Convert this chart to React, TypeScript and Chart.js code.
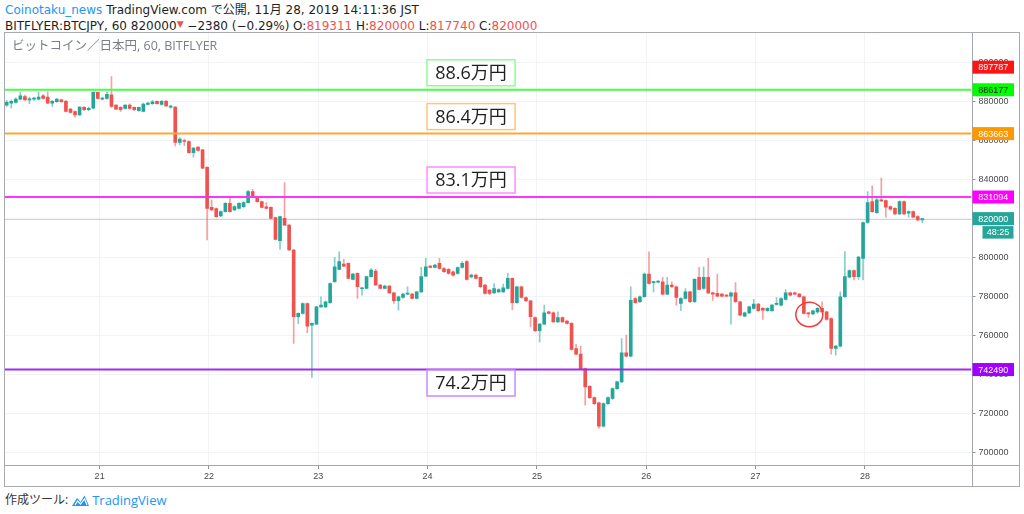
import React, { useEffect, useRef } from "react";
import { Chart, registerables } from "chart.js";

Chart.register(...registerables);

// ---------- data ----------
const dayLabels = ["21", "22", "23", "24", "25", "26", "27", "28"];
const dayTickIndex = [20.4, 44.4, 68.4, 92.4, 116.4, 140.4, 164.4, 188.4];
const priceTicks = [700000, 720000, 740000, 760000, 780000, 800000, 820000, 840000, 860000, 880000, 900000];

const opens = [
  878300, 879300, 879700, 881400, 882700, 881000, 881400, 881400, 883100, 882400,
  879300, 880000, 881000, 880200, 876200, 875000, 873300, 877100, 875900, 876700,
  884800, 881400, 881700, 883600, 878300, 877100, 876600, 878300, 877100, 875400,
  875000, 878600, 879000, 880200, 878600, 880300, 877300, 877300, 859100, 860100,
  859600, 853900, 856700, 855300, 846400, 825800, 825200, 821400, 823600, 827900,
  824500, 825300, 826100, 828200, 833900, 831300, 828700, 826100, 825800, 820500,
  808700, 820100, 816700, 803900, 769600, 771300, 776400, 765300, 765800, 774700,
  774700, 776800, 787600, 793900, 796700, 797000, 788800, 791900, 784000, 784200,
  790200, 793100, 785900, 784200, 785400, 781900, 777800, 779500, 781200, 781200,
  779000, 782400, 790500, 795600, 795000, 797000, 794400, 793900, 792700, 791900,
  794900, 797900, 790100, 791000, 789800, 785900, 783300, 781900, 782400, 782400,
  784100, 789300, 776800, 785000, 779500, 777800, 769200, 762400, 765800, 772100,
  771600, 767000, 769200, 767400, 766200, 753300, 750400, 743000, 733900, 728100,
  725400, 713400, 725000, 727600, 732700, 736200, 751100, 749400, 779000, 777300,
  779900, 791500, 787100, 787400, 787600, 781200, 785900, 785000, 776400, 779000,
  782400, 777300, 789800, 784100, 789800, 781900, 781600, 781200, 780700, 780200,
  781900, 777300, 769900, 771600, 773900, 776100, 773900, 772700, 772700, 776000,
  775600, 778500, 781900, 781900, 781200, 779900, 771600, 771000, 772100, 773900,
  772100, 768700, 753300, 754500, 779900, 789900, 793300, 790200, 799600, 818000,
  828800, 823100, 829600, 829300, 826200, 825300, 822400, 828800, 822800, 823600,
  821100, 819311,
];
const highs = [
  880700, 881000, 882000, 884800, 883400, 882400, 882400, 884800, 883800, 885100,
  880700, 881700, 881400, 880700, 876700, 875400, 877600, 877600, 877300, 885100,
  885100, 882400, 884800, 893000, 878600, 877600, 878600, 878900, 877300, 877300,
  879300, 879700, 880700, 880500, 880700, 880700, 878300, 877600, 861500, 860800,
  860000, 856500, 857000, 855600, 846700, 829600, 825500, 824000, 828200, 831300,
  826700, 828200, 828700, 834500, 835100, 831600, 829000, 828200, 826100, 820800,
  821300, 838500, 817000, 804200, 771600, 776700, 776700, 766500, 775000, 779900,
  777600, 787000, 800100, 803000, 799100, 797300, 791900, 792200, 784700, 790500,
  794400, 793900, 786200, 785900, 785700, 782200, 780200, 781600, 785000, 781600,
  782700, 795000, 799600, 796000, 796500, 799600, 795000, 794400, 793200, 795200,
  797900, 798400, 791500, 791500, 790100, 786200, 783600, 786700, 784100, 786400,
  791900, 789600, 785400, 785400, 779900, 778100, 769600, 766200, 775600, 772500,
  772100, 772100, 769600, 767800, 766600, 755500, 754500, 743400, 734300, 728500,
  725800, 725400, 728500, 733100, 736600, 758400, 760200, 785000, 779400, 780300,
  792200, 803000, 787800, 788200, 789800, 789800, 787600, 785400, 779400, 784100,
  782800, 789200, 795000, 795300, 799600, 782300, 791500, 781600, 781000, 782300,
  787100, 777700, 772000, 775100, 778500, 776500, 774300, 774300, 776000, 779500,
  779400, 783600, 782300, 782300, 781600, 780300, 771900, 773000, 774300, 777300,
  772500, 769100, 754900, 782400, 803100, 793700, 793700, 800600, 818400, 833900,
  836800, 830500, 840800, 829600, 826600, 825700, 829200, 829200, 824000, 824000,
  821500, 820000,
];
const lows = [
  877600, 876700, 879300, 881000, 880700, 879000, 880700, 881000, 881400, 879000,
  877600, 879700, 879700, 874800, 874200, 872100, 873000, 875500, 875500, 876400,
  881400, 881000, 881400, 877300, 875900, 875000, 876200, 876200, 875500, 875000,
  874800, 878300, 878600, 878800, 878300, 877600, 876700, 857400, 857900, 857500,
  853600, 851600, 854600, 845600, 809000, 824000, 820600, 821000, 823300, 823300,
  824100, 825000, 825800, 827900, 831000, 828400, 825500, 825000, 819800, 809000,
  804200, 816400, 803600, 755900, 766000, 770900, 761400, 738400, 765500, 774400,
  774400, 776500, 787300, 793600, 795300, 789000, 788500, 779000, 780700, 783900,
  789900, 785600, 783900, 783900, 781600, 776400, 773000, 779200, 780900, 778700,
  778700, 782100, 790200, 794700, 794700, 794000, 792400, 791500, 790500, 791500,
  794500, 788400, 789600, 789000, 784500, 781200, 781000, 781600, 782100, 782100,
  783800, 773300, 776400, 779200, 777300, 764400, 762000, 756700, 765500, 771000,
  766700, 766700, 766700, 765800, 752400, 750000, 742600, 724200, 727700, 724600,
  712200, 713000, 724600, 727200, 732300, 735800, 749000, 749000, 776400, 776900,
  779500, 786300, 782400, 787000, 780800, 780800, 784600, 775600, 772700, 778600,
  776900, 776900, 783200, 783700, 781500, 778000, 779800, 779800, 779900, 765800,
  776900, 770000, 769500, 771200, 773500, 772300, 768200, 772300, 772300, 775600,
  775200, 778100, 780300, 780800, 779500, 770900, 769200, 770600, 771300, 771700,
  767800, 750400, 749900, 754100, 779500, 789500, 788500, 788800, 788500, 817600,
  823200, 822700, 828700, 820700, 824400, 822000, 822000, 822000, 820700, 820300,
  818900, 817740,
];
const closes = [
  879700, 880200, 881400, 883100, 881000, 881400, 881700, 882400, 881700, 879300,
  880300, 881400, 880000, 875000, 874500, 873300, 877300, 875900, 876700, 884800,
  881700, 881900, 883800, 877600, 876200, 875900, 878300, 876600, 875900, 877100,
  878800, 879300, 880000, 879000, 880300, 877900, 877600, 859100, 860800, 859600,
  853900, 856200, 855000, 845900, 825300, 824500, 821000, 823600, 827900, 823600,
  826200, 827900, 828200, 833900, 831300, 828700, 825800, 825300, 820100, 809300,
  821000, 816700, 803900, 769600, 771300, 776400, 764800, 766200, 774700, 775600,
  777300, 786700, 795300, 797900, 795600, 789300, 791500, 785000, 784200, 790200,
  793600, 785900, 784200, 785400, 781900, 777800, 779900, 781200, 781600, 779000,
  782400, 790200, 795300, 795000, 796200, 794400, 792700, 791900, 791000, 794900,
  797000, 788800, 791000, 789300, 785000, 781600, 781600, 784100, 783600, 784500,
  789300, 776800, 785000, 779500, 777800, 769600, 762400, 765800, 771600, 771300,
  767000, 769200, 767000, 766200, 752800, 750400, 743000, 733600, 728100, 725000,
  713400, 725000, 728100, 732700, 736200, 751100, 749400, 778100, 776800, 779900,
  791500, 786700, 787400, 787800, 781200, 785900, 785000, 779500, 779000, 782400,
  777300, 788800, 783600, 789800, 781900, 781200, 780200, 780200, 780200, 781900,
  777300, 770400, 771600, 774700, 776100, 772700, 773000, 773900, 775600, 776300,
  779000, 781900, 780700, 781200, 779900, 771300, 771000, 772700, 773900, 772100,
  768200, 753300, 754500, 779900, 790200, 793300, 790200, 800200, 818000, 828300,
  823600, 829600, 829100, 825900, 824800, 822400, 828800, 822400, 823600, 820700,
  819300, 820000,
];

const levelValues = [886177, 863663, 831094, 742490];
const levelTexts = ["88.6万円", "86.4万円", "83.1万円", "74.2万円"];
const levelBelow = [false, false, false, true];
const highMarker = 897787;
const lastPrice = 820000;
const countdown = "48:25";
const circleAt = { index: 176.2, price: 770800 };

// ---------- styles ----------
const UP = "#26a69a";
const DOWN = "#ef5350";
const UP_WICK = "rgba(38,166,154,0.55)";
const DOWN_WICK = "rgba(239,83,80,0.55)";
const levelLineColors = ["#45ff45", "#ffa630", "#ff33ff", "#9d2cf5"];
const levelBoxColors = ["#8dff8d", "#ffc57a", "#ff8cff", "#c68cff"];
const levelTagColors = ["#00ff00", "#ff9800", "#ff00ff", "#a000ff"];
const levelTagText = ["#111111", "#ffffff", "#ffffff", "#ffffff"];
const FONT = '"Open Sans", "Noto Sans CJK JP", sans-serif';
const HEAD_FONT = '"DejaVu Sans", "Noto Sans CJK JP", sans-serif';
const AXIS_FONT = '"Liberation Sans", Arial, sans-serif';

const X_MIN = -0.373;
const X_MAX = 211.8;
const Y_MIN = 693470;
const Y_MAX = 915330;
const BOX_START = 92.27;
const BOX_END = 111.6;

const bodies = opens.map((o, i) => ({ x: i, y: [o, closes[i]] }));
const wicks = lows.map((l, i) => ({ x: i, y: [l, highs[i]] }));
const bodyColors = opens.map((o, i) => (closes[i] >= o ? UP : DOWN));
const wickColors = opens.map((o, i) => (closes[i] >= o ? UP_WICK : DOWN_WICK));

const overlayPlugin = {
  id: "overlay",
  afterDatasetsDraw(chart: any) {
    const { ctx, chartArea: a, scales } = chart;
    const xs = scales.x;
    const ys = scales.y;
    ctx.save();
    ctx.beginPath();
    ctx.rect(a.left, a.top, a.right - a.left, a.bottom - a.top);
    ctx.clip();

    // last price line
    const yl = Math.round(ys.getPixelForValue(lastPrice)) + 0.5;
    ctx.strokeStyle = "rgba(38,166,154,0.35)";
    ctx.lineWidth = 1;
    ctx.beginPath();
    ctx.moveTo(a.left, yl);
    ctx.lineTo(a.right, yl);
    ctx.stroke();

    // horizontal levels
    levelValues.forEach((v, k) => {
      const y = ys.getPixelForValue(v);
      ctx.strokeStyle = levelLineColors[k];
      ctx.lineWidth = 2;
      ctx.beginPath();
      ctx.moveTo(a.left, y);
      ctx.lineTo(a.right, y);
      ctx.stroke();
    });

    // text boxes
    const bx0 = xs.getPixelForValue(BOX_START);
    const bx1 = xs.getPixelForValue(BOX_END);
    levelValues.forEach((v, k) => {
      const y = ys.getPixelForValue(v);
      const h = 26;
      const top = levelBelow[k] ? y + 0.5 : y - 4 - h;
      ctx.fillStyle = "#ffffff";
      ctx.fillRect(bx0, top, bx1 - bx0, h);
      ctx.strokeStyle = levelBoxColors[k];
      ctx.lineWidth = 1.5;
      ctx.strokeRect(bx0, top, bx1 - bx0, h);
      ctx.fillStyle = "#1e1e1e";
      ctx.font = `18px ${FONT}`;
      ctx.textAlign = "center";
      ctx.textBaseline = "middle";
      ctx.fillText(levelTexts[k], (bx0 + bx1) / 2, top + h / 2 + 1);
    });

    // red circle annotation
    const cx = xs.getPixelForValue(circleAt.index);
    const cy = ys.getPixelForValue(circleAt.price);
    ctx.strokeStyle = "#f03c3c";
    ctx.lineWidth = 1.5;
    ctx.beginPath();
    ctx.ellipse(cx, cy, 13.5, 12.3, 0, 0, Math.PI * 2);
    ctx.stroke();
    ctx.restore();
  },
  afterDraw(chart: any) {
    const { ctx, chartArea: a, scales, width, height } = chart;
    const ys = scales.y;
    ctx.save();
    // separators
    ctx.strokeStyle = "#a3a6ae";
    ctx.lineWidth = 1;
    ctx.beginPath();
    ctx.moveTo(Math.round(a.right) + 0.5, 0);
    ctx.lineTo(Math.round(a.right) + 0.5, height);
    ctx.moveTo(0, Math.round(a.bottom) + 0.5);
    ctx.lineTo(width, Math.round(a.bottom) + 0.5);
    ctx.stroke();

    const tag = (value: number, bg: string, fg: string, text: string) => {
      const yc = ys.getPixelForValue(value);
      const x0 = a.right + 1;
      const w = 41.5;
      const h = 13;
      ctx.fillStyle = bg;
      ctx.fillRect(x0, yc - h / 2, w, h);
      ctx.fillStyle = fg;
      ctx.font = `9px ${AXIS_FONT}`;
      ctx.textAlign = "center";
      ctx.textBaseline = "middle";
      ctx.fillText(text, x0 + w / 2, yc + 0.5);
      return yc;
    };
    tag(highMarker, "#ff1414", "#ffffff", String(highMarker));
    levelValues.forEach((v, k) => tag(v, levelTagColors[k], levelTagText[k], String(v)));
    const yLast = tag(lastPrice, UP, "#ffffff", String(lastPrice));
    // countdown
    ctx.fillStyle = UP;
    ctx.fillRect(a.right + 11, yLast + 7.5, 31, 12.5);
    ctx.fillStyle = "#ffffff";
    ctx.font = `9px ${AXIS_FONT}`;
    ctx.textAlign = "center";
    ctx.textBaseline = "middle";
    ctx.fillText(countdown, a.right + 26.5, yLast + 14);
    ctx.restore();
  },
};

export default function App() {
  const ref = useRef<HTMLCanvasElement>(null);
  useEffect(() => {
    const chart = new Chart(ref.current as HTMLCanvasElement, {
      type: "bar",
      data: {
        datasets: [
          {
            label: "body",
            data: bodies as any,
            backgroundColor: bodyColors,
            barThickness: 3,
            grouped: false,
            minBarLength: 1,
            borderWidth: 0,
          },
          {
            label: "wick",
            data: wicks as any,
            backgroundColor: wickColors,
            barThickness: 1,
            grouped: false,
            borderWidth: 0,
          },
        ],
      },
      options: {
        responsive: false,
        animation: false,
        layout: { padding: 0 },
        plugins: { legend: { display: false }, tooltip: { enabled: false } },
        scales: {
          x: {
            type: "linear",
            min: X_MIN,
            max: X_MAX,
            offset: false,
            grid: { color: "#f1f3f8", offset: false, tickLength: 4, tickColor: "#8d9099", drawTicks: true },
            border: { display: false },
            afterBuildTicks: (s: any) => {
              s.ticks = dayTickIndex.map((v) => ({ value: v }));
            },
            afterFit: (s: any) => {
              s.height = 21;
              s.paddingLeft = 0;
              s.paddingRight = 0;
            },
            ticks: {
              autoSkip: false,
              maxRotation: 0,
              padding: 2,
              color: "#4a4a4a",
              font: { family: AXIS_FONT, size: 9 },
              callback: (_v: any, i: number) => dayLabels[i] ?? "",
            },
          },
          y: {
            type: "linear",
            position: "right",
            min: Y_MIN,
            max: Y_MAX,
            beginAtZero: false,
            grid: { color: "#f1f3f8", tickLength: 4, tickColor: "#8d9099", drawTicks: true },
            border: { display: false },
            afterBuildTicks: (s: any) => {
              s.ticks = priceTicks.map((v) => ({ value: v }));
            },
            afterFit: (s: any) => {
              s.width = 47.5;
              s.paddingTop = 0;
              s.paddingBottom = 0;
            },
            ticks: {
              autoSkip: false,
              padding: 3,
              color: "#4a4a4a",
              font: { family: AXIS_FONT, size: 9 },
              callback: (v: any) => String(v),
            },
          },
        },
      },
      plugins: [overlayPlugin],
    } as any);
    return () => chart.destroy();
  }, []);

  const red = { color: "#ef5350" };
  return (
    <div
      style={{
        position: "absolute",
        left: 0,
        top: 0,
        width: 1024,
        height: 514,
        background: "#ffffff",
        overflow: "hidden",
        fontFamily: FONT,
        color: "#1d1f26",
      }}
    >
      <div
        style={{
          position: "absolute",
          left: 5,
          top: 3,
          fontSize: 12,
          lineHeight: "15px",
          whiteSpace: "nowrap",
          fontFamily: HEAD_FONT,
        }}
      >
        <span style={{ color: "#2196f3" }}>Coinotaku_news</span> TradingView.com で公開, 11月 28, 2019 14:11:36 JST
      </div>
      <div
        style={{
          position: "absolute",
          left: 5,
          top: 17,
          fontSize: 12,
          lineHeight: "15px",
          whiteSpace: "nowrap",
          fontFamily: HEAD_FONT,
        }}
      >
        BITFLYER:BTCJPY, 60 820000<span style={{ ...red, fontSize: 9, verticalAlign: "3px" }}>▼</span> −2380 (−0.29%) O:
        <span style={red}>819311</span> H:<span style={red}>820000</span> L:<span style={red}>817740</span> C:
        <span style={red}>820000</span>
      </div>
      <div
        style={{
          position: "absolute",
          left: 4,
          top: 32,
          width: 1016,
          height: 455,
          border: "1px solid #a8abb3",
          boxSizing: "border-box",
        }}
      />
      <canvas ref={ref} width={1014} height={453} style={{ position: "absolute", left: 5, top: 33 }} />
      <div
        style={{
          position: "absolute",
          left: 12,
          top: 38,
          fontSize: 12.5,
          lineHeight: "16px",
          color: "#7b7e87",
          whiteSpace: "nowrap",
        }}
      >
        ビットコイン／日本円, 60, BITFLYER
      </div>
      <div
        style={{
          position: "absolute",
          left: 5,
          top: 492,
          fontSize: 12,
          lineHeight: "16px",
          whiteSpace: "nowrap",
          display: "flex",
          alignItems: "center",
          color: "#333",
        }}
      >
        <span>作成ツール:</span>
        <svg width="19" height="13" viewBox="0 0 19 13" style={{ margin: "0 2px 0 3px" }}>
          <path d="M1 12 L6 4 L9.5 8 L13.5 1.5 L18 12 Z" fill="#2196f3" />
          <path d="M4 11 L6.5 7 L9.5 10 L13.5 5 L16 11" fill="none" stroke="#ffffff" strokeWidth="1.2" />
        </svg>
        <span style={{ color: "#2196f3", fontSize: 13 }}>TradingView</span>
      </div>
    </div>
  );
}
